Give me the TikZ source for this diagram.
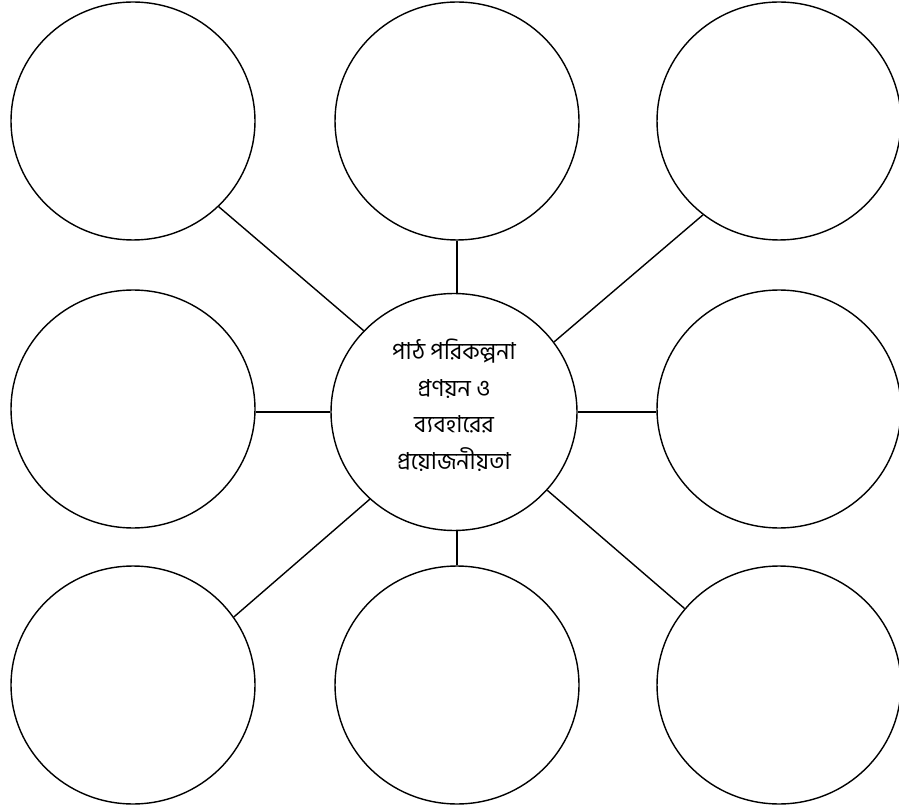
\documentclass[tikz,border=0pt]{standalone}
\usepackage{fontspec}
\newfontfamily\bnfont[Script=Bengali]{Hind Siliguri}
\usetikzlibrary{shapes.geometric}

\begin{document}
\begin{tikzpicture}[x=0.02cm, y=-0.02cm, line width=0.8pt,
  bubble/.style={draw, ellipse, inner sep=0pt, minimum width=4.88cm, minimum height=4.76cm},
  hub/.style={draw, ellipse, inner sep=0pt, minimum width=4.92cm, minimum height=4.74cm, font=\bnfont\fontsize{13.3}{20.9}\selectfont}]
  \useasboundingbox (0,0) rectangle (899,807);
  % outer circles
  \node[bubble] (tl) at (133,121) {};
  \node[bubble] (tm) at (457,121) {};
  \node[bubble] (tr) at (779,121) {};
  \node[bubble] (ml) at (133,409) {};
  \node[bubble] (mr) at (779,409) {};
  \node[bubble] (bl) at (133,685) {};
  \node[bubble] (bm) at (457,685) {};
  \node[bubble] (br) at (779,685) {};
  % centre
  \node[hub] (hub) at (454,412) {\raisebox{2.8pt}[\height][\depth]{\begin{tabular}{@{}c@{}}পাঠ পরিকল্পনা\\প্রণয়ন ও\\ব্যবহারের\\প্রয়োজনীয়তা\end{tabular}}};
  % spokes
  \draw (hub.138) -- (tl.315);
  \draw (tm.south) -- (tm.south |- hub.north);
  \draw (hub.35) -- (tr.231);
  \draw (hub.west) -- (hub.west -| ml.east);
  \draw (hub.east) -- (hub.east -| mr.west);
  \draw (hub.226) -- (bl.34);
  \draw (bm.north) -- (bm.north |- hub.south);
  \draw (hub.320) -- (br.141);
\end{tikzpicture}
\end{document}
